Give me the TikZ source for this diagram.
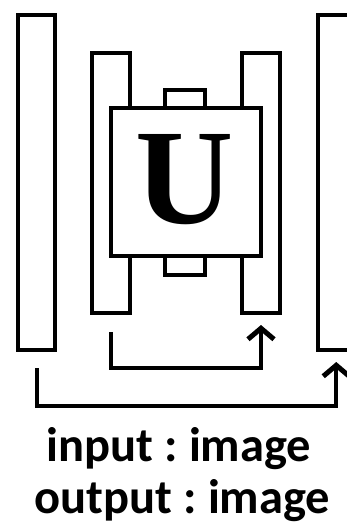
\documentclass[tikz,border=0pt]{standalone}
\usepackage{fontspec}
\setmainfont{Carlito}
\newfontfamily\userif{Liberation Serif}
\usetikzlibrary{arrows.meta}
\frenchspacing
\begin{document}
\begin{tikzpicture}[x=1pt,y=-1pt,
  bar/.style={draw=black,line width=4pt,rectangle,inner sep=0pt,fill=white},
  arr/.style={line width=4pt,-{Straight Barb[length=11pt,width=26pt,line width=5pt]},shorten >=10.5pt},
  lbl/.style={anchor=base,font=\bfseries\fontsize{48.5}{56}\selectfont,inner sep=0pt}]
\useasboundingbox (0,0) rectangle (346,531);
\fill[white] (0,0) rectangle (346,531);
% outer bars
\node[bar,minimum width=37.5pt,minimum height=335pt] (lb) at (36.25,182) {};
\node[bar,minimum width=37.5pt,minimum height=335pt] (rb) at (336.25,182) {};
% inner bars
\node[bar,minimum width=38pt,minimum height=260pt] (il) at (111,182.5) {};
\node[bar,minimum width=38pt,minimum height=260pt] (ir) at (261,182.5) {};
% small tabs
\node[bar,minimum width=40pt,minimum height=22pt] (tt) at (185,100.5) {};
\node[bar,minimum width=40pt,minimum height=22pt] (tb) at (185,264) {};
% central box
\node[bar,minimum width=150.5pt,minimum height=148pt] (ub) at (185.75,181.5) {};
\node[anchor=base,inner sep=0pt,font=\userif\bfseries\fontsize{136}{136}\selectfont] (u) at (185,223) {U};
% skip connections
\coordinate (s1) at (110.7,332);
\coordinate (s2) at (36.5,368);
\draw[arr] (s1) -- (s1 |- 0,368) -| (ir.south);
\draw[arr] (s2) -- (s2 |- 0,406) -| (rb.south);
% labels
\node[lbl] (t1) at (179,461) {input : image};
\node[lbl] (t2) at (182.5,513) {output : image};
\end{tikzpicture}
\end{document}
